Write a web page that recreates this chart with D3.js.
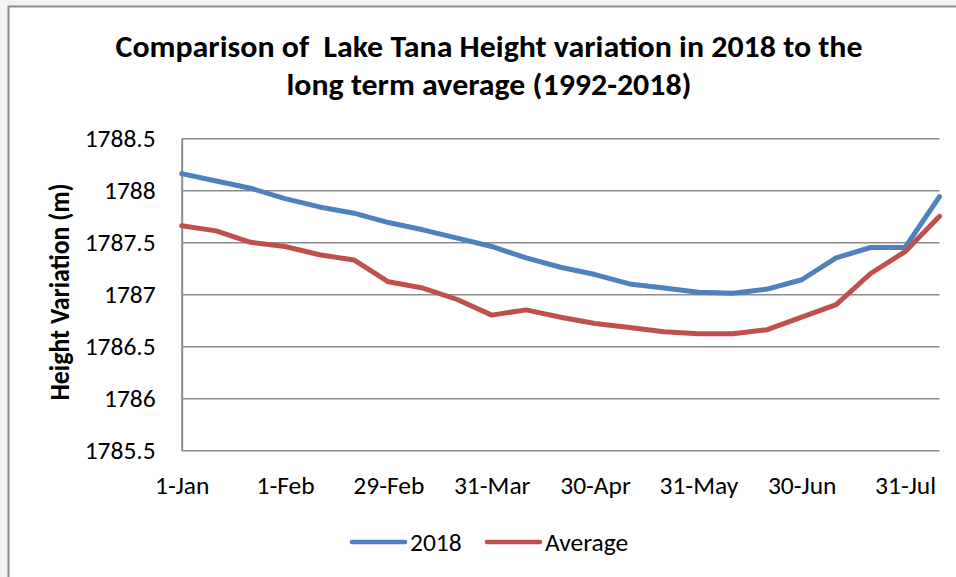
<!DOCTYPE html>
<html>
<head>
<meta charset="utf-8">
<script src="https://cdn.jsdelivr.net/npm/d3@7"></script>
<style>
  html, body { margin: 0; padding: 0; background: #f3f3f5; }
  svg { display: block; }
  text { font-family: Carlito, Calibri, "Liberation Sans", sans-serif; white-space: pre; }
</style>
</head>
<body>
<script>
  // values
  const categories = ["1-Jan", "11-Jan", "21-Jan", "1-Feb", "11-Feb", "21-Feb", "29-Feb",
    "10-Mar", "20-Mar", "31-Mar", "10-Apr", "20-Apr", "30-Apr", "10-May", "20-May", "31-May",
    "10-Jun", "20-Jun", "30-Jun", "10-Jul", "20-Jul", "31-Jul", "10-Aug"];
  const height2018 = [1788.16, 1788.09, 1788.02, 1787.92, 1787.84, 1787.78, 1787.69, 1787.62,
    1787.54, 1787.46, 1787.35, 1787.26, 1787.19, 1787.10, 1787.06, 1787.02, 1787.01, 1787.05,
    1787.14, 1787.35, 1787.45, 1787.45, 1787.94];
  const heightAverage = [1787.66, 1787.61, 1787.50, 1787.46, 1787.38, 1787.33, 1787.12, 1787.06,
    1786.95, 1786.80, 1786.85, 1786.78, 1786.72, 1786.68, 1786.64, 1786.62, 1786.62, 1786.66,
    1786.78, 1786.90, 1787.20, 1787.41, 1787.75];
  const yTicks = [1785.5, 1786, 1786.5, 1787, 1787.5, 1788, 1788.5];
  const xTickLabels = ["1-Jan", "1-Feb", "29-Feb", "31-Mar", "30-Apr", "31-May", "30-Jun", "31-Jul"];
  const seriesNames = ["2018", "Average"];
  const seriesColors = ["#4f81bd", "#c0504d"];

  const width = 956, height = 577;
  const plot = {left: 181.7, right: 939.5, top: 138.3, bottom: 450.3};
  const font = "Carlito, Calibri, 'Liberation Sans', sans-serif";

  const svg = d3.select("body").append("svg")
      .attr("width", width)
      .attr("height", height);

  // chart area frame
  svg.append("rect")
      .attr("x", 8.5).attr("y", 6.5)
      .attr("width", 980).attr("height", 600)
      .attr("fill", "#fff")
      .attr("stroke", "#8c8c8c")
      .attr("stroke-width", 2);

  const x = d3.scalePoint()
      .domain(categories)
      .range([plot.left, plot.right]);

  const y = d3.scaleLinear()
      .domain([1785.5, 1788.5])
      .range([plot.bottom, plot.top]);

  // gridlines
  svg.append("g")
      .attr("transform", `translate(${plot.left},0)`)
      .call(d3.axisLeft(y).tickValues(yTicks).tickSize(-(plot.right - plot.left)).tickFormat(""))
      .call(g => g.select(".domain").remove())
      .call(g => g.selectAll("line").attr("stroke", "#8c8c8c").attr("stroke-width", 1.5));

  // y axis
  svg.append("g")
      .attr("transform", `translate(${plot.left},0)`)
      .call(d3.axisLeft(y).tickValues(yTicks).tickSize(0).tickPadding(26).tickFormat(d3.format("")))
      .call(g => g.select(".domain").attr("stroke", "#8c8c8c").attr("stroke-width", 2))
      .call(g => g.selectAll("text").attr("font-size", 25.5).attr("fill", "#000")
          .attr("font-family", font));

  // x axis
  svg.append("g")
      .attr("transform", `translate(0,${plot.bottom})`)
      .call(d3.axisBottom(x).tickValues(xTickLabels).tickSize(0).tickPadding(27))
      .call(g => g.select(".domain").remove())
      .call(g => g.selectAll("text").attr("font-size", 25.5).attr("fill", "#000")
          .attr("font-family", font).attr("dy", "0.66em"));

  const line = d3.line()
      .x((d, i) => x(categories[i]))
      .y(d => y(d));

  [height2018, heightAverage].forEach((values, k) => {
    svg.append("path")
        .datum(values)
        .attr("fill", "none")
        .attr("stroke", seriesColors[k])
        .attr("stroke-width", 5)
        .attr("stroke-linejoin", "round")
        .attr("stroke-linecap", "round")
        .attr("d", line);
  });

  // title
  const title = svg.append("g")
      .attr("font-weight", "bold")
      .attr("font-size", 30)
      .attr("text-anchor", "middle");
  title.append("text")
      .attr("x", 489).attr("y", 57)
      .attr("textLength", 747).attr("lengthAdjust", "spacingAndGlyphs")
      .text("Comparison of  Lake Tana Height variation in 2018 to the");
  title.append("text")
      .attr("x", 489).attr("y", 95)
      .attr("textLength", 405).attr("lengthAdjust", "spacingAndGlyphs")
      .text("long term average (1992-2018)");

  // y axis title
  svg.append("text")
      .attr("transform", "translate(68.5,292) rotate(-90)")
      .attr("text-anchor", "middle")
      .attr("font-weight", "bold")
      .attr("font-size", 27.5)
      .attr("textLength", 217).attr("lengthAdjust", "spacingAndGlyphs")
      .text("Height Variation (m)");

  // legend
  const legendX = [352, 487];
  const legend = svg.append("g")
    .selectAll("g")
    .data(seriesNames)
    .join("g")
      .attr("transform", (d, i) => `translate(${legendX[i]},542)`);
  legend.append("line")
      .attr("x1", 0).attr("x2", 53)
      .attr("stroke", (d, i) => seriesColors[i])
      .attr("stroke-width", 4.5)
      .attr("stroke-linecap", "round");
  legend.append("text")
      .attr("x", 58).attr("y", 8.5)
      .attr("font-size", 25.5)
      .text(d => d);
</script>
</body>
</html>
